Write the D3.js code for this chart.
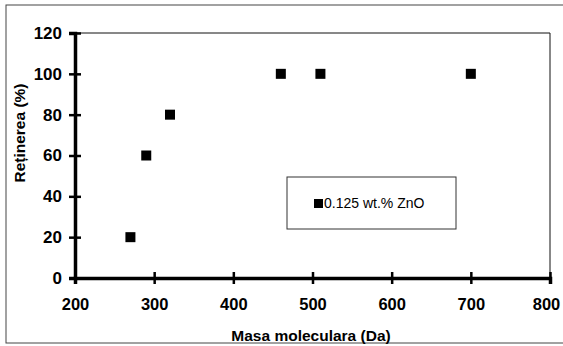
<!DOCTYPE html>
<html>
<head>
<meta charset="utf-8">
<script src="https://cdn.jsdelivr.net/npm/d3@7"></script>
<style>
  body { margin: 0; background: #fff; }
  text { font-family: "Liberation Sans", Arial, sans-serif; }
</style>
</head>
<body>
<div class="canvas"></div>
<script>
const masa = [270, 290, 320, 460, 510, 700];
const retinerea = [20, 60, 80, 100, 100, 100];
const xTicks = [200, 300, 400, 500, 600, 700, 800];
const yTicks = [0, 20, 40, 60, 80, 100, 120];
const seriesName = '0.125 wt.% ZnO';

const dims = { width: 563, height: 346 };
const plot = { left: 75, top: 33, right: 550, bottom: 278 };

const svg = d3.select('.canvas')
  .append('svg')
    .attr('width', dims.width)
    .attr('height', dims.height)

// scanned outer frame
svg.append('rect')
  .attr('x', 6).attr('y', 5)
  .attr('width', 570).attr('height', 338)
  .attr('fill', 'none')
  .attr('stroke', '#444')
  .attr('stroke-width', 1)

const x = d3.scaleLinear().domain([200, 800]).range([plot.left, plot.right]);
const y = d3.scaleLinear().domain([0, 120]).range([plot.bottom, plot.top]);

// thin top / right border
svg.append('path')
  .attr('d', `M${plot.left},${plot.top}H${plot.right}V${plot.bottom}`)
  .attr('fill', 'none')
  .attr('stroke', '#111')
  .attr('stroke-width', 1)

const xAxis = svg.append('g')
  .attr('transform', `translate(0, ${plot.bottom})`)
  .call(d3.axisBottom(x).tickValues(xTicks).tickSize(6).tickPadding(14))
xAxis.select('.domain').attr('stroke-width', 3.5).attr('stroke', '#000')
xAxis.selectAll('.tick line').attr('y1', -6).attr('stroke-width', 2.5)
xAxis.selectAll('text')
  .attr('font-size', 16.5).attr('font-weight', 'bold').attr('fill', '#000')
  .attr('font-family', '"Liberation Sans", Arial, sans-serif')
// last label sits a little left of its tick so it stays inside the page
xAxis.selectAll('.tick').filter(d => d === 800).select('text').attr('dx', -4)

const yAxis = svg.append('g')
  .attr('transform', `translate(${plot.left}, 0)`)
  .call(d3.axisLeft(y).tickValues(yTicks).tickSize(6).tickPadding(7))
yAxis.select('.domain').attr('stroke-width', 3.5).attr('stroke', '#000')
yAxis.selectAll('.tick line').attr('x1', 6).attr('x2', -6).attr('stroke-width', 2.5)
yAxis.selectAll('text')
  .attr('font-size', 17).attr('font-weight', 'bold').attr('fill', '#000')
  .attr('font-family', '"Liberation Sans", Arial, sans-serif')

// axis titles
svg.append('text')
  .attr('x', 311).attr('y', 341)
  .attr('text-anchor', 'middle')
  .attr('font-size', 15.5).attr('font-weight', 'bold')
  .text('Masa moleculara (Da)')

svg.append('text')
  .attr('transform', 'translate(25, 133) rotate(-90)')
  .attr('text-anchor', 'middle')
  .attr('font-size', 15.5).attr('font-weight', 'bold')
  .text('Reținerea (%)')

// points
const pts = masa.map((m, i) => ({ m: m, r: retinerea[i] }));
svg.selectAll('.pt')
  .data(pts)
  .enter()
  .append('rect')
    .attr('class', 'pt')
    .attr('x', d => x(d.m) - 5)
    .attr('y', d => y(d.r) - 5)
    .attr('width', 10).attr('height', 10)
    .attr('fill', '#000')

// legend
const legend = svg.append('g').attr('transform', 'translate(287, 177)')
legend.append('rect')
  .attr('width', 169).attr('height', 52)
  .attr('fill', '#fff').attr('stroke', '#333').attr('stroke-width', 1)
legend.append('rect')
  .attr('x', 27).attr('y', 22).attr('width', 9).attr('height', 9)
  .attr('fill', '#000')
legend.append('text')
  .attr('x', 37).attr('y', 31)
  .attr('font-size', 14)
  .text(seriesName)
</script>
</body>
</html>
